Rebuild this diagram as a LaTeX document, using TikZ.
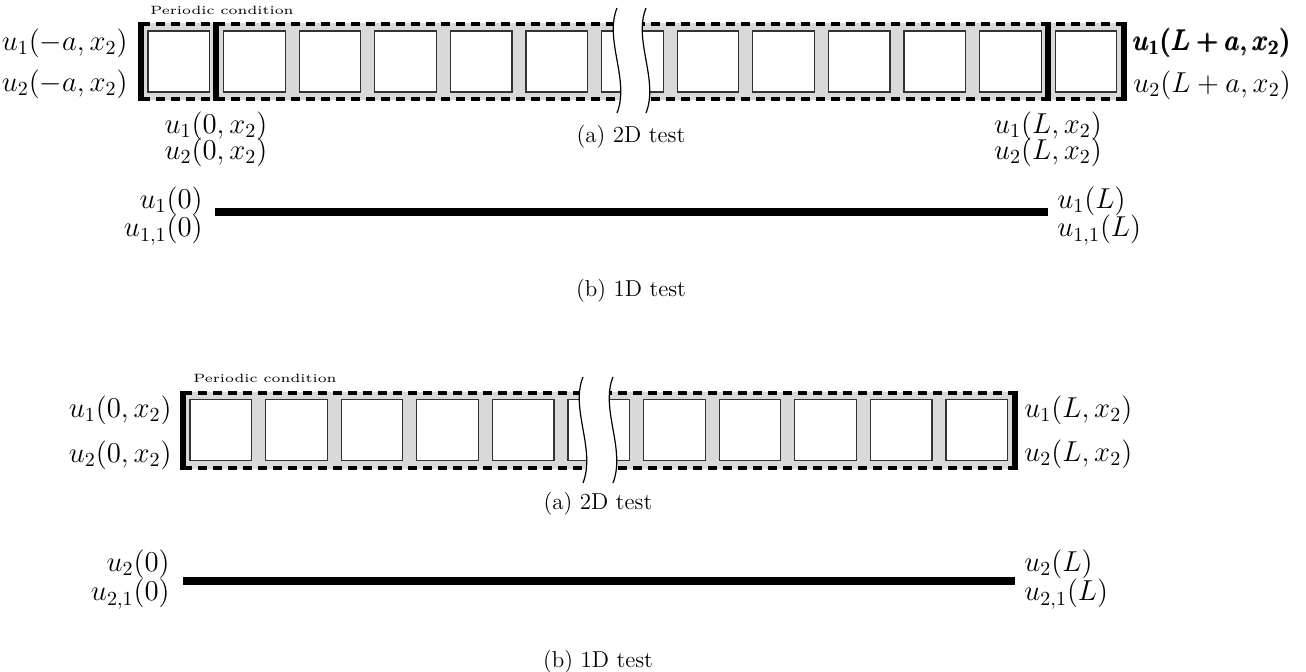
\documentclass[tikz,border=0pt]{standalone}
\usepackage{amsmath}
\usepackage{graphicx}
\begin{document}
\begin{tikzpicture}[x=0.5pt,y=-0.5pt,
  cellbox/.style={draw=black!80,fill=white,line width=0.6pt,minimum width=30.75pt,minimum height=30.5pt,inner sep=0pt,outer sep=0pt},
  band/.style={fill=gray!30,draw=none},
  dashline/.style={line width=1.8pt,dash pattern=on 4.5pt off 3pt},
  thickbar/.style={line width=2.8pt},
  rod/.style={line width=4.2pt},
  lbl/.style={inner sep=0pt,font=\fontsize{14}{16}\selectfont},
  captxt/.style={inner sep=0pt,font=\fontsize{11.5}{13}\selectfont},
  pctxt/.style={inner sep=0pt,font=\fontsize{6}{7}\selectfont},
  breakline/.style={line width=0.6pt},
]
\useasboundingbox (0,0) rectangle (1306,671);

% ---------- top (a) 2D test ----------
\fill[band] (141,23) rectangle (1124,100);
\draw[dashline] (141,24) -- (1124,24);
\draw[dashline] (141,99) -- (1124,99);
\foreach \i in {0,...,12}
  \node[cellbox] (ta\i) at ({178.75+75.6*\i},61.5) {};
\draw[thickbar] (141,22) -- (141,101);
\draw[thickbar] (216,22) -- (216,101);
\draw[thickbar] (1048,22) -- (1048,101);
\draw[thickbar] (1124,22) -- (1124,101);
\fill[white] (617,8) .. controls (604,40) and (630,80) .. (617,113)
  -- (646,113) .. controls (659,80) and (633,40) .. (646,8) -- cycle;
\draw[breakline] (617,8) .. controls (604,40) and (630,80) .. (617,113);
\draw[breakline] (646,8) .. controls (633,40) and (659,80) .. (646,113);

\node[pctxt,anchor=west] (pcA) at (150,10) {\scalebox{1.22}[1]{Periodic condition}};
\node[lbl,anchor=east] (tl1) at (128,43) {$u_1(-a,x_2)$};
\node[lbl,anchor=east] (tl2) at (128,84) {$u_2(-a,x_2)$};
\node[lbl] (tm1) at (216,126) {$u_1(0,x_2)$};
\node[lbl] (tm2) at (216,152) {$u_2(0,x_2)$};
\node[lbl] (tn1) at (1048,126) {$u_1(L,x_2)$};
\node[lbl] (tn2) at (1048,152) {$u_2(L,x_2)$};
\node[lbl,anchor=west] (tr1) at (1133,43) {$\pmb{u_1(L+a,x_2)}$};
\node[lbl,anchor=west] (tr2) at (1133,85) {$u_2(L+a,x_2)$};
\node[captxt] (capA1) at (631,137) {(a) 2D test};

% ---------- top (b) 1D test ----------
\coordinate (r1s) at (215,212);
\coordinate (r1e) at (1048,212);
\draw[rod] (r1s) -- (r1e);
\node[lbl,anchor=east] (ra1) at (203,201) {$u_1(0)$};
\node[lbl,anchor=east] (ra2) at (203,230) {$u_{1,1}(0)$};
\node[lbl,anchor=west] (rb1) at (1057,201) {$u_1(L)$};
\node[lbl,anchor=west] (rb2) at (1057,230) {$u_{1,1}(L)$};
\node[captxt] (capB1) at (631,291) {(b) 1D test};

% ---------- bottom (a) 2D test ----------
\fill[band] (183,392) rectangle (1015,469);
\draw[dashline] (183,393) -- (1015,393);
\draw[dashline] (183,468) -- (1015,468);
\foreach \i in {0,...,10}
  \node[cellbox] (ba\i) at ({220.75+75.6*\i},430) {};
\draw[thickbar] (183,391) -- (183,470);
\draw[thickbar] (1015,391) -- (1015,470);
\fill[white] (583,377) .. controls (570,409) and (596,449) .. (583,483)
  -- (613,483) .. controls (626,449) and (600,409) .. (613,377) -- cycle;
\draw[breakline] (583,377) .. controls (570,409) and (596,449) .. (583,483);
\draw[breakline] (613,377) .. controls (600,409) and (626,449) .. (613,483);

\node[pctxt,anchor=west] (pcB) at (193,378) {\scalebox{1.22}[1]{Periodic condition}};
\node[lbl,anchor=east] (bl1) at (172,410) {$u_1(0,x_2)$};
\node[lbl,anchor=east] (bl2) at (172,455) {$u_2(0,x_2)$};
\node[lbl,anchor=west] (br1) at (1024,410) {$u_1(L,x_2)$};
\node[lbl,anchor=west] (br2) at (1024,454) {$u_2(L,x_2)$};
\node[captxt] (capA2) at (598,504) {(a) 2D test};

% ---------- bottom (b) 1D test ----------
\coordinate (r2s) at (183,581);
\coordinate (r2e) at (1015,581);
\draw[rod] (r2s) -- (r2e);
\node[lbl,anchor=east] (sa1) at (170,564) {$u_2(0)$};
\node[lbl,anchor=east] (sa2) at (170,594) {$u_{2,1}(0)$};
\node[lbl,anchor=west] (sb1) at (1024,564) {$u_2(L)$};
\node[lbl,anchor=west] (sb2) at (1024,594) {$u_{2,1}(L)$};
\node[captxt] (capB2) at (598,662) {(b) 1D test};
\end{tikzpicture}
\end{document}
